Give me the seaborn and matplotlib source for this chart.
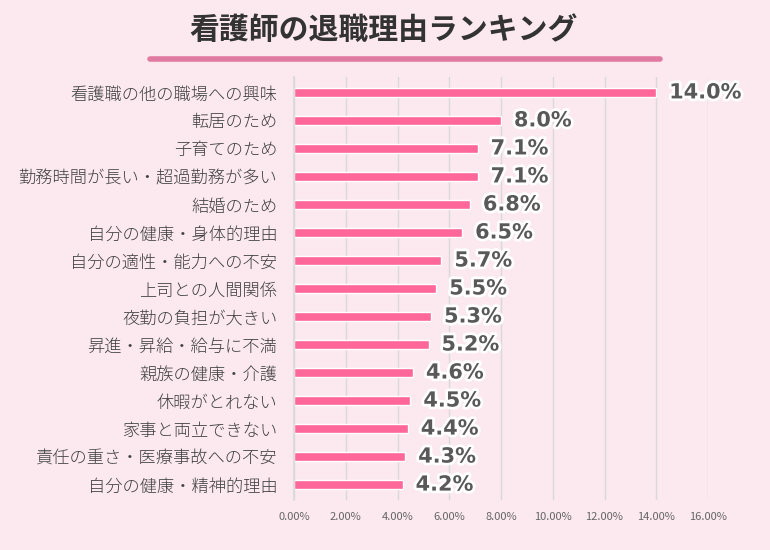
import matplotlib
matplotlib.use("Agg")
import matplotlib.pyplot as plt
import matplotlib.patheffects as pe
import seaborn as sns
import pandas as pd

categories = ["看護職の他の職場への興味", "転居のため", "子育てのため", "勤務時間が長い・超過勤務が多い",
              "結婚のため", "自分の健康・身体的理由", "自分の適性・能力への不安", "上司との人間関係",
              "夜勤の負担が大きい", "昇進・昇給・給与に不満", "親族の健康・介護", "休暇がとれない",
              "家事と両立できない", "責任の重さ・医療事故への不安", "自分の健康・精神的理由"]
values = [14.0, 8.0, 7.1, 7.1, 6.8, 6.5, 5.7, 5.5, 5.3, 5.2, 4.6, 4.5, 4.4, 4.3, 4.2]
xticks = [0, 2, 4, 6, 8, 10, 12, 14, 16]
title = "看護師の退職理由ランキング"

sns.set_theme(style="white")
plt.rcParams['font.family'] = ['Noto Sans CJK JP', 'DejaVu Sans']

bg = "#fbe9ef"
df = pd.DataFrame({"cat": categories, "val": values})

fig = plt.figure(figsize=(7.7, 5.5), dpi=100, facecolor=bg)
ax = fig.add_axes([294/770, 1-500/550, (708-294)/770, (500-77)/550])
ax.set_facecolor(bg)
sns.barplot(data=df, y="cat", x="val", orient="h", color="#ff6699", width=0.33,
            saturation=1, ax=ax)
ax.set_xlim(0, 16)
ax.set_xticks(xticks)
ax.set_xticklabels([f"{t:.2f}%" for t in xticks], fontsize=8, color="#666666")
ax.set_xlabel("")
ax.set_ylabel("")
ax.tick_params(axis="y", labelsize=12.4, colors="#404040", length=0, pad=12)
for lab in ax.get_yticklabels():
    lab.set_fontweight("light")
ax.tick_params(axis="x", length=0, pad=9)
ax.xaxis.grid(True, color="#d9d9d9", linewidth=1)
ax.set_axisbelow(True)
for s in ["top", "right", "bottom"]:
    ax.spines[s].set_visible(False)
ax.spines["left"].set_color("#d9d9d9")
ax.set_ylim(len(categories) - 0.45, -0.55)

for i, v in enumerate(values):
    ax.text(v + 0.5, i, f"{v:.1f}%", va="center", ha="left", fontsize=15,
            fontweight="bold", color="#595959", family=['DejaVu Sans'],
            path_effects=[pe.withStroke(linewidth=4, foreground="white")])

fig.text(383/770, 1-30/550, title, ha="center", va="center", fontsize=21.5,
         fontweight="bold", color="#333333")
fig.add_artist(plt.Line2D([150/770, 660/770], [1-59/550, 1-59/550], color="#e17aa0",
                          linewidth=4, transform=fig.transFigure, solid_capstyle="round"))

fig.savefig("out.png", dpi=100, facecolor=bg)
